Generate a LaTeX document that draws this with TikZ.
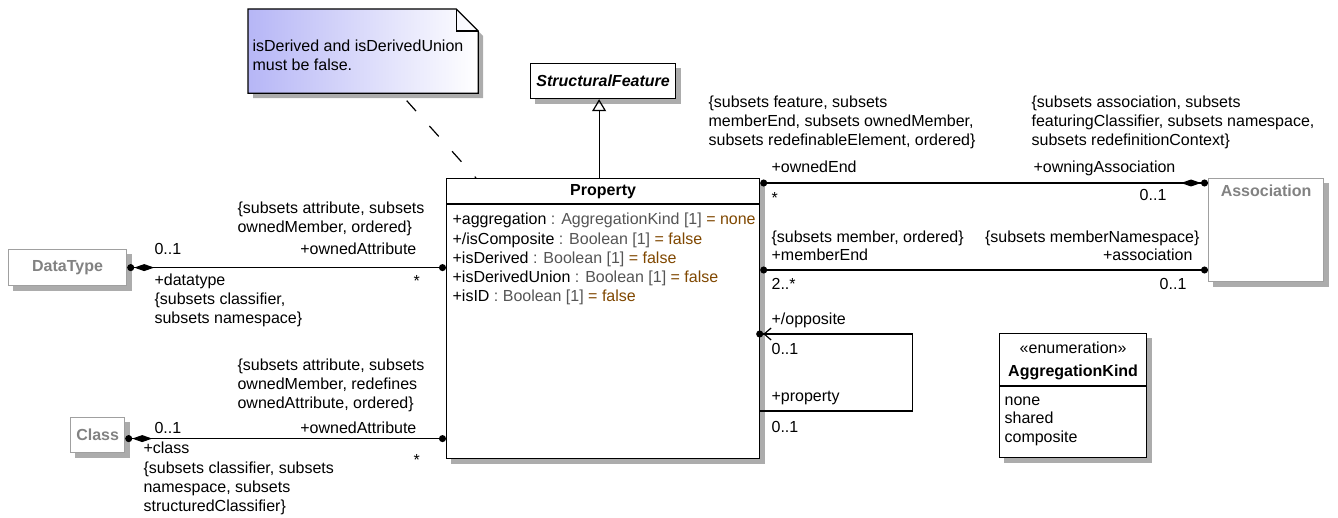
\documentclass[tikz,border=0pt]{standalone}
\usepackage{fontspec}
\setmainfont{Liberation Sans}
\usepackage{tikz}
\usetikzlibrary{arrows.meta,positioning,backgrounds}

\definecolor{ghostgray}{RGB}{160,160,160}
\definecolor{ghosttext}{RGB}{130,130,130}
\definecolor{typegray}{RGB}{85,85,85}
\definecolor{valbrown}{RGB}{128,72,0}
\definecolor{noteblue}{RGB}{182,182,246}
\definecolor{shadegray}{RGB}{172,172,172}

\newcommand{\propattr}[3]{#1 \textcolor{typegray}{: #2} \textcolor{valbrown}{= #3}}

\begin{document}
\begin{tikzpicture}[x=1pt, y=-1pt, line width=1.2pt,
	every node/.style={inner sep=0pt, font=\fontsize{16}{19}\selectfont},
	lbl/.style={anchor=base west, align=left},
	lblr/.style={anchor=base east, align=right},
	shadowfill/.style={fill=shadegray, draw=none},
	classbox/.style={draw, fill=white, anchor=north west},
	ghostbox/.style={classbox, draw=ghostgray, text=ghosttext, font=\fontsize{16}{19}\selectfont\bfseries},
	ball/.tip={Circle[length=7pt, sep=0pt]},
	ballx/.tip={Circle[length=7pt, sep=-4pt]},
	composite/.tip={Diamond[length=20pt, width=7pt, sep=0pt]},
	barb/.tip={Straight Barb[length=7pt, width=12pt]}]
	\useasboundingbox (0,0) rectangle (1338,518);

	% Note
	\node [minimum width=229, minimum height=83, anchor=north west]	(note)	at (248,9)	{};
	\path [shadowfill] ([shift={(5,5)}]note.north west) -- ([shift={(-17,5)}]note.north east) -- ([shift={(5,27)}]note.north east) -- ([shift={(5,5)}]note.south east) -- ([shift={(5,5)}]note.south west) -- cycle;
	\path [left color=noteblue, right color=white, draw] (note.north west) -- ([xshift=-22]note.north east) -- ([shift={(0,22)}]note.north east) -- (note.south east) -- (note.south west) -- cycle;
	\draw ([xshift=-22]note.north east) -- ([shift={(-22,22)}]note.north east) -- ([shift={(0,22)}]note.north east);
	\node [lbl]	(notetext)	at ([shift={(4,62)}]note.north west)	{isDerived and isDerivedUnion\\must be false.};

	% Boxes {Property, StructuralFeature, DataType, Class, Association, AggregationKind}
	\node [classbox, minimum width=313, minimum height=280]	(prop)	at (446,178)	{};
	\node [classbox, minimum width=145, minimum height=35, font=\fontsize{16}{19}\selectfont\bfseries\itshape]	(sf)	at (530,63)	{StructuralFeature};
	\node [ghostbox, minimum width=118, minimum height=36]	(dt)	at (8,249)	{DataType};
	\node [ghostbox, minimum width=54, minimum height=35]	(cls)	at (70,417)	{Class};
	\node [ghostbox, minimum width=115, minimum height=103]	(assoc)	at (1208,178)	{};
	\node [classbox, minimum width=147, minimum height=124]	(enum)	at (999,333)	{};

	% Shadows
	\begin{scope}[on background layer]
		\foreach \cb in {prop, sf, dt, cls, assoc, enum}
			\path [shadowfill] ([shift={(5,5)}]\cb.north west) rectangle ([shift={(5,5)}]\cb.south east);
	\end{scope}

	% Compartments
	\node [anchor=base, font=\fontsize{16}{19}\selectfont\bfseries]	(propname)	at ([shift={(0,18)}]prop.north)	{Property};
	\draw ([shift={(0,26)}]prop.north west) -- ([shift={(0,26)}]prop.north east);
	\node [lbl, font=\fontsize{16}{19.25}\selectfont]	(propattrs)	at ([shift={(6,124)}]prop.north west)
		{\propattr{+aggregation}{AggregationKind [1]}{none}\\
		 \propattr{+/isComposite}{Boolean [1]}{false}\\
		 \propattr{+isDerived}{Boolean [1]}{false}\\
		 \propattr{+isDerivedUnion}{Boolean [1]}{false}\\
		 \propattr{+isID}{Boolean [1]}{false}};
	\node [anchor=base, text=ghosttext, font=\fontsize{16}{19}\selectfont\bfseries]	(assocname)	at ([shift={(0,19)}]assoc.north)	{Association};
	\node [anchor=base]	(enumst)	at ([shift={(0,20)}]enum.north)	{«enumeration»};
	\node [anchor=base, font=\fontsize{16}{19}\selectfont\bfseries]	(enumname)	at ([shift={(0,44)}]enum.north)	{AggregationKind};
	\draw ([shift={(0,53)}]enum.north west) -- ([shift={(0,53)}]enum.north east);
	\node [lbl, font=\fontsize{16}{18.5}\selectfont]	(enumlits)	at ([shift={(5,109)}]enum.north west)	{none\\shared\\composite};

	% Anchors
	\coordinate (clsR)	at ([shift={(0,3.5)}]cls.east);
	\coordinate (oeL)	at ([shift={(0,5)}]prop.north east);
	\coordinate (meL)	at ([shift={(0,92)}]prop.north east);
	\coordinate (oppA)	at ([shift={(0,156)}]prop.north east);
	\coordinate (oppB)	at ([shift={(0,233)}]prop.north east);
	\coordinate (oppC)	at ([shift={(152,0)}]oppA);

	% Paths
	\path [draw, -{Triangle[open, length=12pt, width=14pt]}]	([xshift=-4]prop.north)	-- ([xshift=-4]sf.south);
	\path [draw, dash pattern=on 14pt off 20pt, dash phase=24pt]	([xshift=152]note.south west)	-- ([xshift=30]prop.north west);
	\path [draw, {ball[] composite[]}-{ball[]}]	(dt.east)	-- (dt.east -| prop.west);
	\path [draw, {ball[] composite[]}-{ball[]}]	(clsR)	-- (clsR -| prop.west);
	\path [draw, {ball[]}-{composite[] ball[]}]	(oeL)	-- (oeL -| assoc.west);
	\path [draw, {ball[]}-{ball[]}]	(meL)	-- (meL -| assoc.west);
	\path [draw, {ballx[] barb[]}-]	(oppA)	-- (oppC) |- (oppB);

	% Labels {DataType end}
	\node [lbl]	(dtcons)	at (237,233)	{\{subsets attribute, subsets\\ownedMember, ordered\}};
	\node [lbl]	(dtmult)	at (154,255)	{0..1};
	\node [lblr]	(dtrole)	at (417,255)	{+ownedAttribute};
	\node [lbl]	(dtname)	at (154,286)	{+datatype};
	\node [lbl]	(dtstar)	at (413,287)	{*};
	\node [lbl]	(dtsub)	at (154,324)	{\{subsets classifier,\\subsets namespace\}};

	% Labels {Class end}
	\node [lbl]	(clscons)	at (237,408)	{\{subsets attribute, subsets\\ownedMember, redefines\\ownedAttribute, ordered\}};
	\node [lbl]	(clsmult)	at (154,433)	{0..1};
	\node [lblr]	(clsrole)	at (417,433)	{+ownedAttribute};
	\node [lbl]	(clsname)	at (143,453)	{+class};
	\node [lbl]	(clsstar)	at (413,465)	{*};
	\node [lbl]	(clssub)	at (143,511)	{\{subsets classifier, subsets\\namespace, subsets\\structuredClassifier\}};

	% Labels {Association ends}
	\node [lbl]	(oecons)	at (708,146)	{\{subsets feature, subsets\\memberEnd, subsets ownedMember,\\subsets redefinableElement, ordered\}};
	\node [lbl]	(oacons)	at (1031,146)	{\{subsets association, subsets\\featuringClassifier, subsets namespace,\\subsets redefinitionContext\}};
	\node [lbl]	(oerole)	at (771,173)	{+ownedEnd};
	\node [lblr]	(oarole)	at (1176,173)	{+owningAssociation};
	\node [lbl]	(oestar)	at (771,204)	{*};
	\node [lblr]	(oamult)	at (1167,201)	{0..1};
	\node [lbl]	(mecons)	at (771,243)	{\{subsets member, ordered\}};
	\node [lblr]	(ascons)	at (1200,243)	{\{subsets memberNamespace\}};
	\node [lbl]	(merole)	at (771,261)	{+memberEnd};
	\node [lblr]	(asrole)	at (1193,261)	{+association};
	\node [lbl]	(memult)	at (771,290)	{2..*};
	\node [lblr]	(asmult)	at (1187,290)	{0..1};

	% Labels {opposite}
	\node [lbl]	(opprole)	at (771,325)	{+/opposite};
	\node [lbl]	(oppmult)	at (771,355)	{0..1};
	\node [lbl]	(pprole)	at (771,401)	{+property};
	\node [lbl]	(ppmult)	at (771,432)	{0..1};
\end{tikzpicture}
\end{document}
